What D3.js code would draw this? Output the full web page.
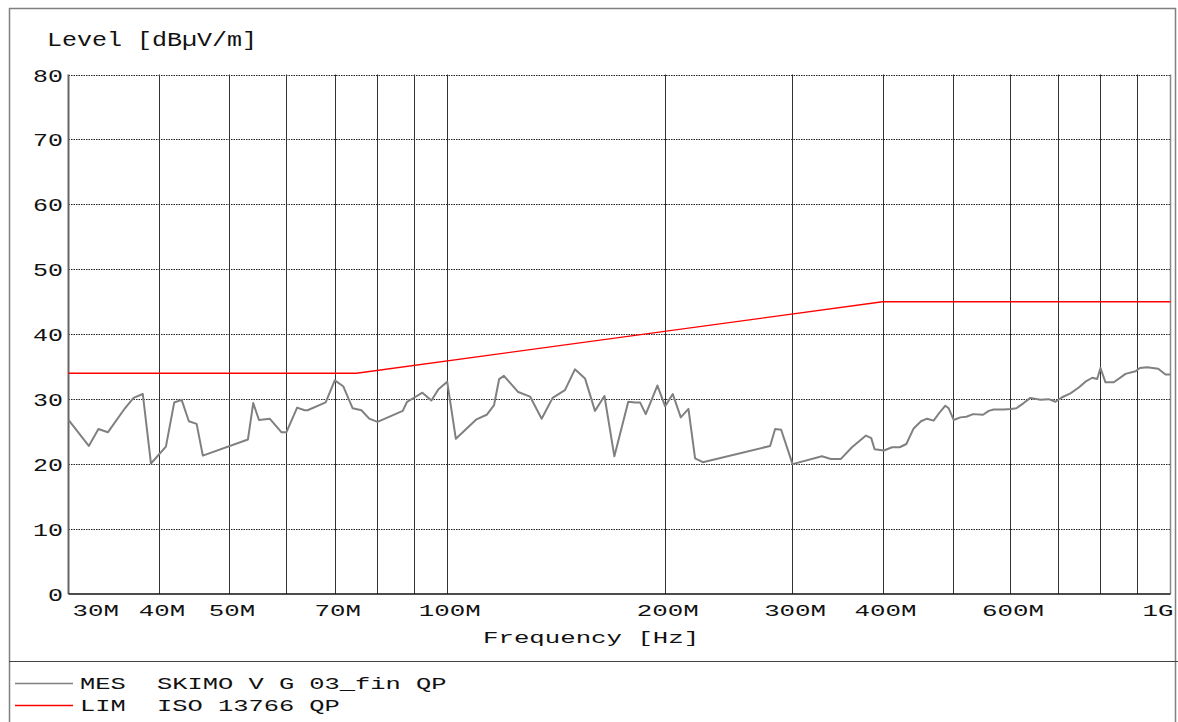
<!DOCTYPE html>
<html><head><meta charset="utf-8">
<script src="https://cdn.jsdelivr.net/npm/d3@7"></script>
<style>
body{margin:0;background:#fff}
svg{display:block}
text{font-family:"Liberation Mono","DejaVu Sans Mono",monospace;fill:#111}
</style>
</head><body>
<svg id="c" width="1178" height="722"></svg>
<script>
// ---- data ----
const freqMHz = [30,32.0,33.0,34.0,35.9,36.9,38.0,39.0,40.9,42.0,43.0,44.0,45.1,46.0,53.1,54.0,55.0,56.9,59.1,60.0,62.1,63.6,64.2,68.0,70.0,71.9,74.1,76.2,78.1,80.2,86.9,88.1,90.3,92.5,95.2,97.3,100.1,102.9,109.9,113.5,116.2,118.1,119.9,125.5,130.3,135.2,140.0,145.6,150.3,155.2,160.2,165.1,170.4,178.1,182.0,184.9,188.3,195.4,200.3,205.2,210.5,215.7,220.3,225.8,279.7,284.2,289.7,300.4,329.8,339.4,350.4,362.9,379.5,385.9,390.0,401.8,412.3,422.4,431.5,441.6,452.1,460.8,470.6,480.8,488.5,493.7,501.6,512.4,522.3,533.6,550.8,560.8,569.8,588.2,602.2,612.4,626.8,640.3,661.0,678.7,693.4,708.3,727.4,746.9,762.9,779.4,791.9,800.3,813.1,835.0,866.7,894.7,907.1,928.6,961.7,984.2,1000];
const levelMES = [26.8,22.8,25.4,24.9,28.6,30.2,30.8,20.1,22.7,29.5,29.9,26.6,26.2,21.3,23.8,29.4,26.8,27.0,24.9,24.9,28.7,28.3,28.3,29.5,32.9,32.0,28.6,28.3,27.0,26.5,28.2,29.6,30.3,31.0,29.8,31.5,32.7,23.9,26.9,27.6,29.1,33.1,33.6,31.1,30.4,27.0,30.2,31.4,34.6,33.2,28.2,30.5,21.2,29.6,29.5,29.5,27.7,32.1,28.9,30.8,27.2,28.5,20.9,20.3,22.8,25.4,25.3,20.0,21.2,20.8,20.8,22.6,24.4,24.0,22.3,22.1,22.6,22.6,23.1,25.5,26.6,27.0,26.7,28.1,29.0,28.6,26.8,27.2,27.3,27.7,27.6,28.2,28.4,28.4,28.5,28.6,29.4,30.2,29.9,30.0,29.6,30.3,30.9,31.8,32.7,33.3,33.1,34.8,32.6,32.6,33.9,34.3,34.8,34.9,34.7,33.8,33.8];
const limFreqMHz = [30,75,400,1000];
const limLevel = [34,34,45,45];
const xTickMHz = [30,40,50,70,100,200,300,400,600,1000];
const xTickLabels = ["30M","40M","50M","70M","100M","200M","300M","400M","600M","1G"];
const xGridMHz = [40,50,60,70,80,90,100,200,300,400,500,600,700,800,900];
const yTicks = [0,10,20,30,40,50,60,70,80];
const legendNames = ["MES","LIM"];
const legendTexts = ["SKIMO V G 03_fin QP","ISO 13766 QP"];
const legendColors = ["#808080","#ff0000"];

// ---- layout ----
const svg = d3.select("#c");
const L = 68.5, R = 1170.5, T = 74.5, B = 594;
const x = d3.scaleLog().domain([30,1000]).range([L,R]);
const y = d3.scaleLinear().domain([0,80]).range([B,T]);

// place text with left edge xs, baseline ys, stretched horizontally to width w
function place(t, xs, ys, w){
  t.attr("x",0).attr("y",0).attr("text-anchor","start").attr("dy",null);
  const w0 = t.node().getComputedTextLength();
  const sx = w0>0 ? w/w0 : 1;
  t.attr("transform",`translate(${xs},${ys}) scale(${sx},1)`);
}

// outer frame
const fr = svg.append("g").attr("stroke","#808080").attr("stroke-width",1.5).attr("fill","none");
fr.append("line").attr("x1",9).attr("x2",1176).attr("y1",8.5).attr("y2",8.5);
fr.append("line").attr("x1",9.5).attr("x2",9.5).attr("y1",8).attr("y2",722);
fr.append("line").attr("x1",1175.5).attr("x2",1175.5).attr("y1",8).attr("y2",722);
svg.append("line").attr("x1",9).attr("x2",1178).attr("y1",661.5).attr("y2",661.5)
  .attr("stroke","#444").attr("stroke-width",1.2);

// horizontal dotted gridlines
svg.append("g").selectAll("line").data(yTicks.filter(d=>d>0)).join("line")
  .attr("x1",L).attr("x2",R).attr("y1",d=>Math.round(y(d))+0.5).attr("y2",d=>Math.round(y(d))+0.5)
  .attr("stroke","#222").attr("stroke-width",1).attr("stroke-dasharray","1.5,1");

// vertical gridlines
svg.append("g").selectAll("line").data(xGridMHz).join("line")
  .attr("x1",d=>Math.round(x(d))+0.5).attr("x2",d=>Math.round(x(d))+0.5).attr("y1",T).attr("y2",B)
  .attr("stroke","#333").attr("stroke-width",1);

// plot frame
svg.append("line").attr("x1",L).attr("x2",L).attr("y1",T).attr("y2",B).attr("stroke","#666").attr("stroke-width",2);
svg.append("line").attr("x1",R).attr("x2",R).attr("y1",T).attr("y2",B).attr("stroke","#888").attr("stroke-width",1.5);
svg.append("line").attr("x1",L).attr("x2",R).attr("y1",B).attr("y2",B).attr("stroke","#111").attr("stroke-width",1.5);

// y axis labels
const yAx = svg.append("g").attr("transform",`translate(${L},0)`)
  .call(d3.axisLeft(y).tickValues(yTicks).tickSize(0).tickPadding(6));
yAx.select(".domain").remove();
yAx.selectAll(".tick text").each(function(){
  const t=d3.select(this).attr("font-size",18.5).attr("font-family",'"Liberation Mono",monospace').attr("fill","#111");
  const n=t.text().length; const w=n*15;
  place(t, -5.5-w, 6.5, w);
});

// x axis labels
const xAx = svg.append("g").attr("transform",`translate(0,${B})`)
  .call(d3.axisBottom(x).tickValues(xTickMHz).tickFormat((d,i)=>xTickLabels[i]).tickSize(0).tickPadding(0));
xAx.select(".domain").remove();
xAx.selectAll(".tick text").each(function(d,i){
  const t=d3.select(this).attr("font-size",16.5).attr("font-family",'"Liberation Mono",monospace').attr("fill","#111");
  const n=t.text().length; const w=n*15.5;
  let xs = 2.5-w/2;
  if(i===0) xs = 72 - x(d);
  if(i===xTickMHz.length-1) xs = 1173 - w - x(d);
  place(t, xs, 22, w);
});

// titles
const t1 = svg.append("text").attr("font-size",20).text("Level [dBµV/m]");
place(t1, 47, 45.5, 14*15);
const t2 = svg.append("text").attr("font-size",16).text("Frequency [Hz]");
place(t2, 483, 642.5, 14*15.45);

// series
const line = d3.line().x(d=>x(d[0])).y(d=>y(d[1]));
svg.append("path").datum(limFreqMHz.map((f,i)=>[f,limLevel[i]]))
  .attr("d",line).attr("fill","none").attr("stroke","#ff0000").attr("stroke-width",1.4);
svg.append("path").datum(freqMHz.map((f,i)=>[f,levelMES[i]]))
  .attr("d",line).attr("fill","none").attr("stroke","#808080").attr("stroke-width",2).attr("stroke-linejoin","round");

// legend
const lg = svg.append("g");
legendNames.forEach((nm,i)=>{
  const yy = 683 + i*22;
  lg.append("line").attr("x1",15).attr("x2",73).attr("y1",yy+0.5).attr("y2",yy+0.5)
    .attr("stroke",legendColors[i]).attr("stroke-width",1.3);
  const a = lg.append("text").attr("font-size",16.5).text(nm);
  place(a, 80, yy+6, nm.length*15.25);
  const b = lg.append("text").attr("font-size",16.5).text(legendTexts[i]);
  place(b, 157, yy+6, legendTexts[i].length*15.25);
});
</script>
</body></html>
